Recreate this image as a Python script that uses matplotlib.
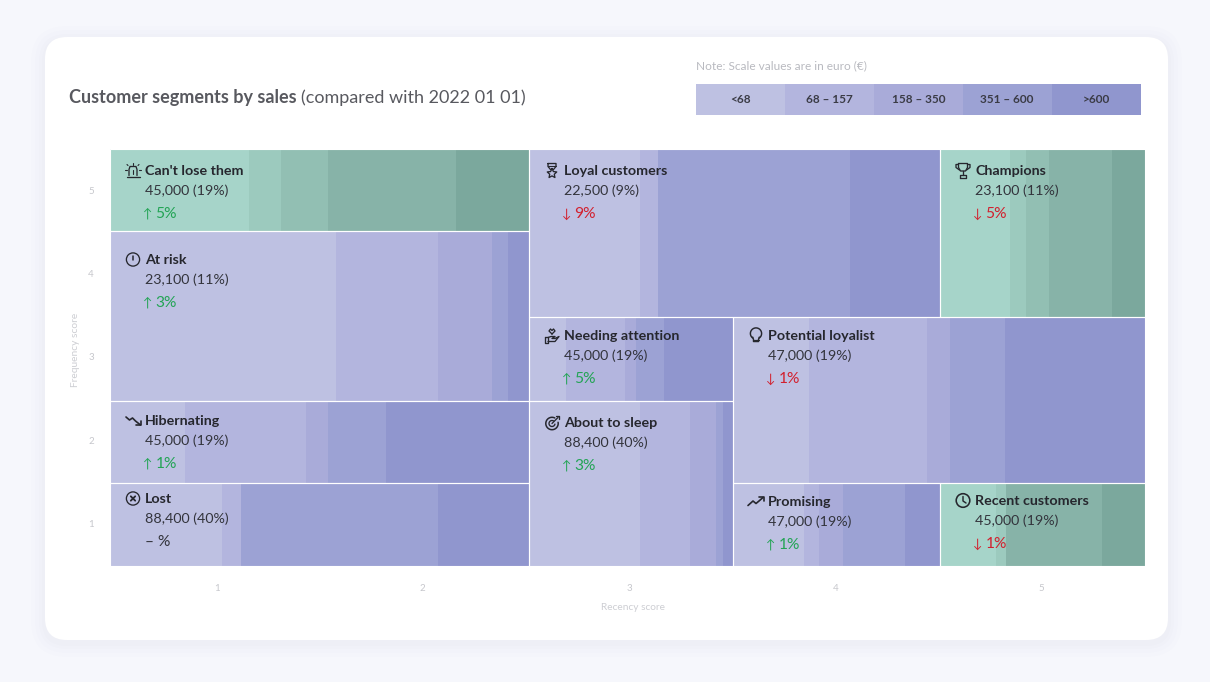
import matplotlib
matplotlib.use('Agg')
import numpy as np
import matplotlib.pyplot as plt
from matplotlib.patches import FancyBboxPatch, Circle, Rectangle

plt.rcParams['font.family'] = ['Lato', 'Noto Sans', 'DejaVu Sans']

# segments, all lists in the same order
names = ["Can't lose them", "At risk", "Hibernating", "Lost", "Loyal customers", "Needing attention",
         "About to sleep", "Champions", "Potential loyalist", "Promising", "Recent customers"]
counts = ["45,000 (19%)", "23,100 (11%)", "45,000 (19%)", "88,400 (40%)", "22,500 (9%)", "45,000 (19%)",
          "88,400 (40%)", "23,100 (11%)", "47,000 (19%)", "47,000 (19%)", "45,000 (19%)"]
arrows = ["↑", "↑", "↑", "", "↓", "↑", "↑", "↓", "↓", "↑", "↓"]
deltas = ["5%", "3%", "1%", "– %", "9%", "5%", "3%", "5%", "1%", "1%", "1%"]

# cell extent in score units (recency from/to, frequency from/to)
rec_from = [0.5, 0.5, 0.5, 0.5, 2.524, 2.524, 2.524, 4.509, 3.512, 3.512, 4.509]
rec_to = [2.524, 2.524, 2.524, 2.524, 4.509, 3.512, 3.512, 5.5, 5.5, 4.509, 5.5]
freq_from = [4.51, 2.47, 1.49, 0.5, 3.48, 2.47, 0.5, 3.48, 1.49, 0.5, 0.5]
freq_to = [5.5, 4.51, 2.47, 1.49, 5.5, 3.48, 2.47, 5.5, 3.48, 1.49, 1.49]

# share of each sales band inside a cell (%)
band_shares = [
    [33.2, 7.7, 11.1, 30.7, 17.3],
    [53.9, 24.4, 12.8, 3.8, 5.1],
    [18.0, 28.8, 5.2, 13.8, 34.2],
    [26.8, 4.4, 0.0, 47.0, 21.8],
    [27.0, 4.4, 0.0, 46.8, 21.8],
    [18.1, 29.0, 5.1, 13.7, 34.1],
    [54.3, 24.5, 12.7, 3.4, 5.1],
    [34.2, 7.9, 11.0, 30.9, 16.0],
    [18.3, 28.8, 5.4, 13.6, 33.9],
    [34.2, 7.0, 11.7, 30.2, 16.9],
    [27.6, 4.4, 0.0, 47.0, 21.0],
]
is_teal = [True, False, False, False, False, False, False, True, False, False, True]

legend_labels = ["<68", "68 – 157", "158 – 350", "351 – 600", ">600"]
legend_widths = [1, 1, 1, 1, 1]

purples = ['#BEC1E2', '#B3B5DE', '#A9ABD9', '#9CA2D4', '#9096CE']
teals = ['#A6D4C9', '#9CCABE', '#92BFB3', '#87B3A8', '#7BA89D']

# text spots in the 1210x682 picture
text_x = [145, 145, 145, 145, 564, 564, 564, 975, 768, 768, 975]
text_y = [171, 260, 421, 499, 171, 336, 423, 171, 336, 502, 501]

W, H = 1210, 682
fig = plt.figure(figsize=(W / 100, H / 100), dpi=100, facecolor='#F6F7FC')

# background card, pixel coords
bg = fig.add_axes([0, 0, 1, 1], zorder=0)
bg.set_xlim(0, W)
bg.set_ylim(H, 0)
bg.axis('off')
for grow, a in [(14, 0.006), (10, 0.008), (6, 0.010), (3, 0.012)]:
    bg.add_patch(FancyBboxPatch((45 - grow, 37 - grow + 3), 1123 + 2 * grow, 603 + 2 * grow,
                                boxstyle='round,pad=0,rounding_size=%d' % (22 + grow),
                                fc='#5A64A0', ec='none', alpha=a))
bg.add_patch(FancyBboxPatch((45, 37), 1123, 603, boxstyle='round,pad=0,rounding_size=22', fc='white', ec='none'))

# main treemap
ax = fig.add_axes([110 / W, 1 - 565.5 / H, 1035 / W, 417 / H], zorder=1)
for i in range(len(names)):
    shades = teals if is_teal[i] else purples
    cell_w = rec_to[i] - rec_from[i]
    left = rec_from[i]
    for share, col in zip(band_shares[i], shades):
        w = cell_w * share / 100
        ax.barh(freq_from[i], w, height=freq_to[i] - freq_from[i], left=left, align='edge', color=col, lw=0)
        left += w
    ax.add_patch(Rectangle((rec_from[i], freq_from[i]), cell_w, freq_to[i] - freq_from[i],
                           fill=False, ec='white', lw=0.8, zorder=3, clip_on=True))
ax.set_xlim(0.5, 5.5)
ax.set_ylim(0.5, 5.5)
ax.set_xticks([1.015, 2.011, 3.007, 4.008, 5.0])
ax.set_xticklabels(['1', '2', '3', '4', '5'])
ax.set_yticks([1, 2, 3, 4, 5])
ax.set_yticklabels(['1', '2', '3', '4', '5'])
ax.tick_params(length=0, labelsize=7, labelcolor='#C6C7CC')
ax.tick_params(axis='x', pad=13)
ax.tick_params(axis='y', pad=11.5)
for s in ax.spines.values():
    s.set_visible(False)

# overlay for text and icons
ov = fig.add_axes([0, 0, 1, 1], zorder=2)
ov.set_xlim(0, W)
ov.set_ylim(H, 0)
ov.axis('off')

ov.text(69, 98, "Customer segments by sales", fontsize=13, fontweight='bold', color='#58595F', va='center')
ov.text(301, 98, "(compared with 2022 01 01)", fontsize=13, color='#58595F', va='center')
ov.text(696.5, 65.5, "Note: Scale values are in euro (€)", fontsize=8.6, color='#B9BAC0', va='center')
ov.text(75.5, 350, "Frequency score", fontsize=7.4, color='#CDCED3', rotation=90, ha='center', va='center')
ov.text(633, 607, "Recency score", fontsize=7.3, color='#CDCED3', ha='center', va='center')

# legend strip
lg = fig.add_axes([696 / W, 1 - 115 / H, 444.5 / W, 31.5 / H], zorder=1)
lefts = np.cumsum([0] + legend_widths[:-1])
lg.barh(0, legend_widths, left=lefts, height=1, color=purples, lw=0)
for l, w, lab in zip(lefts, legend_widths, legend_labels):
    lg.text(l + w / 2, 0, lab, ha='center', va='center', fontsize=8.5, fontweight='bold', color='#3A3B45')
lg.set_xlim(0, sum(legend_widths))
lg.set_ylim(-0.5, 0.5)
lg.axis('off')

ICON = '#26272E'


def stroke(cx, cy, xs, ys, lw=0.95):
    ov.plot(np.array(xs) + cx, np.array(ys) + cy, color=ICON, lw=lw, solid_capstyle='round', solid_joinstyle='round')


def ring(cx, cy, r, lw=0.95):
    ov.add_patch(Circle((cx, cy), r, fill=False, ec=ICON, lw=lw))


def icon_siren(c, y):
    stroke(c, y, [-4, -4, -3, 3, 4, 4], [5, -1, -4, -4, -1, 5])
    stroke(c, y, [-6.5, 6.5], [6, 6])
    for a, b, e, f in [(-8, -1, -6, -1), (8, -1, 6, -1), (-6, -6, -5, -5), (6, -6, 5, -5), (0, -8, 0, -6)]:
        stroke(c, y, [a, e], [b, f], lw=0.8)
    stroke(c, y, [0, 0], [-1, 3], lw=0.8)


def icon_warn(c, y):
    ring(c, y, 6.6)
    stroke(c, y, [0, 0], [-3.2, 0.6], lw=1.1)
    stroke(c, y, [0, 0], [3, 3.2], lw=1.1)


def icon_down(c, y):
    stroke(c, y, [-7, -3.5, -0.5, 2.5, 7.5], [-3.5, -0.5, -2.5, 0.5, 4.5], lw=1.2)
    stroke(c, y, [3, 8, 8], [4.5, 4.5, 0.5], lw=1.2)


def icon_lost(c, y):
    ring(c, y, 6.6)
    stroke(c, y, [-2.2, 2.2], [-2.2, 2.2], lw=1.3)
    stroke(c, y, [-2.2, 2.2], [2.2, -2.2], lw=1.3)


def icon_medal(c, y):
    stroke(c, y, [-4, 4, 4, 1.5, -1.5, -4, -4], [-7, -7, -4, -1, -1, -4, -7])
    stroke(c, y, [-4, 4], [-4.5, -4.5], lw=0.8)
    t = np.linspace(-np.pi / 2, 1.5 * np.pi, 11)
    r = np.where(np.arange(11) % 2 == 0, 5.0, 2.4)
    stroke(c, y + 3, r * np.cos(t), r * np.sin(t))


def icon_trophy(c, y):
    stroke(c, y, [-4.5, -4.5, -2.5, 2.5, 4.5, 4.5, -4.5], [-7, -3, 0.5, 0.5, -3, -7, -7])
    stroke(c, y, [-4.5, -7, -7, -3.5], [-6, -6, -3, -0.5])
    stroke(c, y, [4.5, 7, 7, 3.5], [-6, -6, -3, -0.5])
    stroke(c, y, [0, 0], [0.5, 4])
    stroke(c, y, [-3, -3, 3, 3, -3], [7, 4, 4, 7, 7])


def icon_hand(c, y):
    stroke(c, y, [-7, -7, -4, -4, -7], [1, 7, 7, 1, 1])
    stroke(c, y, [-4, -1, 3, 0, 3, 7, 3, -4], [2, 1, 1, 3, 3, 1, 6, 6])
    stroke(c, y, [0, -3, -1.5, 0, 1.5, 3, 0], [-1.5, -4.5, -6.5, -5, -6.5, -4.5, -1.5])


def icon_sleep(c, y):
    t = np.linspace(-0.2, 1.65 * np.pi, 40)
    stroke(c, y + 1, 6.2 * np.cos(t), 6.2 * np.sin(t), lw=1.1)
    t = np.linspace(0.2, 1.7 * np.pi, 30)
    stroke(c, y + 1, 3 * np.cos(t), 3 * np.sin(t), lw=0.95)
    stroke(c, y, [0, 6], [1, -5], lw=0.95)
    stroke(c, y, [4, 7, 7], [-7, -7, -4], lw=0.95)


def icon_bulb(c, y):
    t = np.linspace(0.7 * np.pi, 2.3 * np.pi, 40)
    stroke(c, y - 2, 5.6 * np.cos(t), 5.6 * np.sin(t), lw=1.05)
    stroke(c, y, [-3.3, -2.5, -2.5, 2.5, 2.5, 3.3], [1.6, 4, 6, 6, 4, 1.6], lw=1.05)
    stroke(c, y, [-2.5, 2.5], [4, 4], lw=0.9)


def icon_up(c, y):
    stroke(c, y, [-8, -3, 0, 3, 7], [4, -0.5, 2, -0.5, -4], lw=1.2)
    stroke(c, y, [2.5, 7.5, 7.5], [-4.5, -4.5, -0.5], lw=1.2)


def icon_clock(c, y):
    ring(c, y, 6.8, lw=1.15)
    stroke(c, y, [0, 0, 3], [-4, 0.5, 2.5], lw=1.05)


icons = [icon_siren, icon_warn, icon_down, icon_lost, icon_medal, icon_hand,
         icon_sleep, icon_trophy, icon_bulb, icon_up, icon_clock]

for i in range(len(names)):
    x, y = text_x[i], text_y[i]
    ov.text(x, y, names[i], fontsize=10.3, fontweight='bold', color='#26272E', va='center')
    ov.text(x, y + 20, counts[i], fontsize=10.3, color='#33343C', va='center')
    col = '#23A455' if arrows[i] == '↑' else '#D2202E' if arrows[i] == '↓' else '#33343C'
    if arrows[i]:
        ov.text(x + 2.5, y + 43, arrows[i], fontsize=9, color=col, ha='center', va='center')
        ov.text(x + 10.5, y + 43, deltas[i], fontsize=11.2, color=col, va='center')
    else:
        ov.text(x, y + 43, deltas[i], fontsize=11.2, color=col, va='center')
    icons[i](x - 12, y - 0.5)

fig.savefig('out.png', dpi=100, facecolor=fig.get_facecolor())
